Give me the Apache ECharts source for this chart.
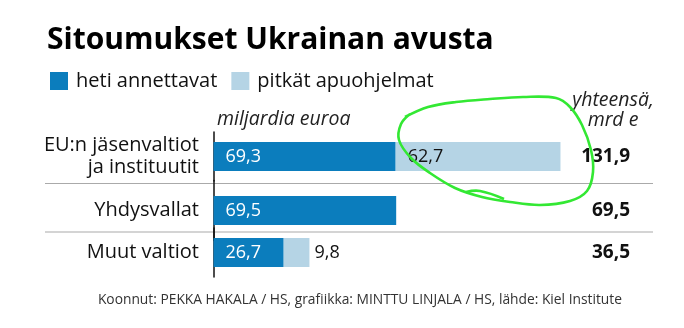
<!DOCTYPE html>
<html>
<head>
<meta charset="utf-8">
<script src="https://cdn.jsdelivr.net/npm/echarts@6/dist/echarts.min.js"></script>
<style>
html,body{margin:0;padding:0;background:#fff;}
#c{width:684px;height:328px;}
</style>
</head>
<body>
<div id="c"></div>
<script>
const categories = ['EU:n jäsenvaltiot\nja instituutit', 'Yhdysvallat', 'Muut valtiot'];
const immediate = [69.3, 69.5, 26.7];
const longTerm = [62.7, null, 9.8];
const totals = [131.9, 69.5, 36.5];
const seriesNames = ['heti annettavat', 'pitkät apuohjelmat'];

const FONT = '"Open Sans", "Noto Sans", sans-serif';
const DARK = '#0b7dbd';
const LIGHT = '#b5d4e5';
const fmt = v => v.toFixed(1).replace('.', ',');

// row layout (grid per row, since the first row is taller)
const rows = [
  { top: 132, height: 49 },
  { top: 180.5, height: 60 },
  { top: 228, height: 49 }
];

const grids = [], xAxes = [], yAxes = [], series = [];
rows.forEach((r, i) => {
  grids.push({ left: 213.5, right: 102.5, top: r.top, height: r.height, containLabel: false });
  xAxes.push({ gridIndex: i, type: 'value', min: 0, max: 140, show: false });
  yAxes.push({
    gridIndex: i, type: 'category', data: [categories[i]], position: 'left',
    axisLine: { show: true, lineStyle: { color: '#111', width: 1.5 } },
    axisTick: { show: false }, splitLine: { show: false },
    axisLabel: { margin: 14.5, color: '#111', fontFamily: FONT, fontSize: 20, lineHeight: 22, align: 'right' }
  });
  yAxes.push({
    gridIndex: i, type: 'category', data: [fmt(totals[i])], position: 'right',
    axisLine: { show: false }, axisTick: { show: false }, splitLine: { show: false },
    axisLabel: { margin: 48.5, color: '#111', fontFamily: FONT, fontSize: 19, fontWeight: 'bold', align: 'right' }
  });
  series.push({
    name: seriesNames[0], type: 'bar', stack: 's' + i, xAxisIndex: i, yAxisIndex: 2 * i,
    barWidth: 29, itemStyle: { color: DARK },
    label: { show: true, position: 'insideLeft', distance: 12, color: '#fff', fontFamily: FONT, fontSize: 18,
      formatter: p => fmt(p.value) },
    data: [immediate[i]], silent: true
  });
  series.push({
    name: seriesNames[1], type: 'bar', stack: 's' + i, xAxisIndex: i, yAxisIndex: 2 * i,
    barWidth: 29, itemStyle: { color: LIGHT },
    label: { show: longTerm[i] != null, position: (longTerm[i] != null && longTerm[i] < 15) ? 'right' : 'insideLeft',
      distance: (longTerm[i] != null && longTerm[i] < 15) ? 5 : 12,
      color: '#111', fontFamily: FONT, fontSize: 18, formatter: p => fmt(p.value) },
    data: [longTerm[i]], silent: true
  });
});

const chart = echarts.init(document.getElementById('c'), null, { renderer: 'canvas' });
chart.setOption({
  animation: false,
  backgroundColor: '#fff',
  title: [
    { text: 'Sitoumukset Ukrainan avusta', left: 42, top: 20,
      textStyle: { fontFamily: FONT, fontSize: 30, fontWeight: 'bold', color: '#000' } },
    { text: 'miljardia euroa', left: 212, top: 104,
      textStyle: { fontFamily: FONT, fontSize: 19.5, fontStyle: 'italic', fontWeight: 'normal', color: '#222' } },
    { text: 'yhteensä,\nmrd e', left: 608, top: 85, textAlign: 'center',
      textStyle: { fontFamily: FONT, fontSize: 19.5, fontStyle: 'italic', fontWeight: 'normal', color: '#222', lineHeight: 20, align: 'center' } },
    { text: 'Koonnut: PEKKA HAKALA / HS, grafiikka: MINTTU LINJALA / HS, lähde: Kiel Institute', right: 57, top: 288,
      textStyle: { fontFamily: FONT, fontSize: 13.8, fontWeight: 'normal', color: '#333' } }
  ],
  legend: {
    data: seriesNames, left: 45, top: 66, icon: 'rect', itemWidth: 18, itemHeight: 18, itemGap: 14,
    textStyle: { fontFamily: FONT, fontSize: 20, color: '#111', padding: [0, 0, 0, 3] },
    selectedMode: false
  },
  grid: grids, xAxis: xAxes, yAxis: yAxes, series: series,
  graphic: [
    { type: 'line', silent: true, shape: { x1: 45, y1: 183.5, x2: 653, y2: 183.5 }, style: { stroke: '#aaa', lineWidth: 1.2 } },
    { type: 'line', silent: true, shape: { x1: 45, y1: 232, x2: 653, y2: 232 }, style: { stroke: '#aaa', lineWidth: 1.2 } },
    { type: 'polyline', silent: true, z: 100,
      shape: { smooth: 0.35, points: [[405,117],[428,107],[456,102],[490,99],[523,97],[556,98],[570,107],[582,125],[591,150],[593,172],[587,191],[570,201],[540,205],[510,202],[482,197],[455,188],[430,173],[411,158],[399,140],[401,124],[410,114]] },
      style: { stroke: '#33e833', lineWidth: 2.6, fill: null } },
    { type: 'polyline', silent: true, z: 100,
      shape: { smooth: 0.4, points: [[466,192],[480,191],[504,199]] },
      style: { stroke: '#33e833', lineWidth: 2.6, fill: null } }
  ]
});
</script>
</body>
</html>
